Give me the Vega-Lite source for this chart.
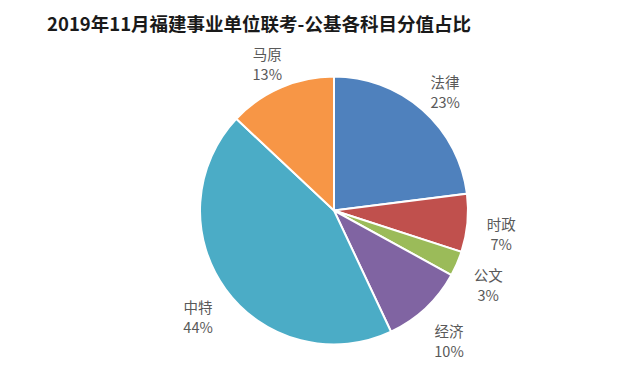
{
  "$schema": "https://vega.github.io/schema/vega-lite/v6.json",
  "width": 612,
  "height": 349,
  "autosize": {"type": "none"},
  "padding": {"left": 28, "top": 36, "right": 0, "bottom": 0},
  "background": "white",
  "config": {"view": {"stroke": null}},
  "title": {
    "text": "2019年11月福建事业单位联考-公基各科目分值占比",
    "font": "Noto Sans CJK SC",
    "fontSize": 18.5,
    "fontWeight": "bold",
    "color": "#1a1a1a",
    "anchor": "middle",
    "dx": -75,
    "dy": 0,
    "offset": 2
  },
  "data": {
    "values": [
      {"subject": "法律", "value": 23, "order": 1, "label": ["法律", "23%"]},
      {"subject": "时政", "value": 7, "order": 2, "label": ["时政", "7%"]},
      {"subject": "公文", "value": 3, "order": 3, "label": ["公文", "3%"]},
      {"subject": "经济", "value": 10, "order": 4, "label": ["经济", "10%"]},
      {"subject": "中特", "value": 44, "order": 5, "label": ["中特", "44%"]},
      {"subject": "马原", "value": 13, "order": 6, "label": ["马原", "13%"]}
    ]
  },
  "encoding": {
    "theta": {"field": "value", "type": "quantitative", "stack": true},
    "order": {"field": "order", "type": "quantitative"},
    "color": {
      "field": "subject",
      "type": "nominal",
      "scale": {
        "domain": ["法律", "时政", "公文", "经济", "中特", "马原"],
        "range": ["#4F81BD", "#C0504D", "#9BBB59", "#8064A2", "#4BACC6", "#F79646"]
      },
      "legend": null
    }
  },
  "layer": [
    {
      "mark": {"type": "arc", "outerRadius": 134, "stroke": "white", "strokeWidth": 2}
    },
    {
      "mark": {
        "type": "text",
        "radius": 168,
        "font": "Noto Sans CJK SC",
        "fontSize": 14.5,
        "lineHeight": 20,
        "color": "#595959",
        "baseline": "middle"
      },
      "encoding": {
        "text": {"field": "label"},
        "color": {"value": "#595959"}
      }
    }
  ]
}
